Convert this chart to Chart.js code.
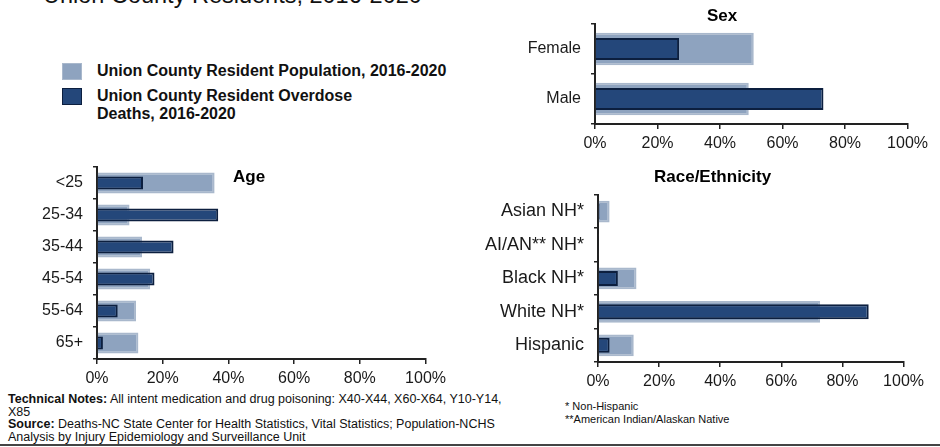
<!DOCTYPE html>
<html>
<head>
<meta charset="utf-8">
<script src="https://cdn.jsdelivr.net/npm/chart.js@4.4.1/dist/chart.umd.min.js"></script>
<style>
  html, body { margin: 0; padding: 0; background: #fff; }
  body { width: 940px; height: 447px; position: relative; overflow: hidden;
         font-family: "Liberation Sans", Arial, sans-serif; color: #111; }
  .abs { position: absolute; }
  canvas { position: absolute; }
  .main-title { left: 43px; top: -16px; font-size: 23.5px; line-height: 23.5px; white-space: nowrap; z-index: 2; }
  .panel-title { font-weight: bold; font-size: 17px; line-height: 17px; white-space: nowrap; z-index: 2; color: #000; }
  .legend { left: 62px; top: 62px; font-weight: bold; font-size: 16px; z-index: 2; }
  .legend .item { position: relative; padding-left: 35px; line-height: 18.6px; margin-bottom: 6px; }
  .legend .sw { position: absolute; left: 0; top: 1px; width: 18px; height: 15px; }
  .notes { left: 8px; top: 393px; font-size: 12.5px; line-height: 12.5px; white-space: nowrap; z-index: 2; }
  .notes2 { left: 565px; top: 400px; font-size: 11px; line-height: 13px; white-space: nowrap; z-index: 2; }
  .rule { left: 0; top: 444px; width: 940px; height: 2px; background: #444; }
</style>
</head>
<body>
<div class="abs main-title">Union County Residents, 2016-2020</div>

<div class="abs legend">
  <div class="item"><span class="sw" style="background:#8ea3bf;border:1px solid #a9b8cc;"></span>Union County Resident Population, 2016-2020</div>
  <div class="item"><span class="sw" style="background:#24477a;border:1px solid #0c1f3f;"></span>Union County Resident Overdose<br>Deaths, 2016-2020</div>
</div>

<div class="abs panel-title" style="left:707px; top:7px;">Sex</div>
<div class="abs panel-title" style="left:233px; top:168px;">Age</div>
<div class="abs panel-title" style="left:654px; top:168px;">Race/Ethnicity</div>

<canvas id="sexChart"></canvas>
<canvas id="ageChart"></canvas>
<canvas id="raceChart"></canvas>

<div class="abs notes">
  <b>Technical Notes:</b> All intent medication and drug poisoning: X40-X44, X60-X64, Y10-Y14,<br>
  X85<br>
  <b>Source:</b> Deaths-NC State Center for Health Statistics, Vital Statistics; Population-NCHS<br>
  Analysis by Injury Epidemiology and Surveillance Unit
</div>
<div class="abs notes2">
  * Non-Hispanic<br>
  **American Indian/Alaskan Native
</div>
<div class="abs rule"></div>

<script>
// Percent of Union County residents (population) and of overdose deaths, 2016-2020
const seriesNames = ["Union County Resident Population, 2016-2020", "Union County Resident Overdose Deaths, 2016-2020"];

const sexCategories = ["Female", "Male"];
const sexPopulation = [50.8, 49.2];
const sexDeaths = [26.9, 73.1];

const ageCategories = ["<25", "25-34", "35-44", "45-54", "55-64", "65+"];
const agePopulation = [35.8, 9.9, 13.7, 16.2, 11.9, 12.6];
const ageDeaths = [14.0, 36.9, 23.3, 17.5, 6.3, 1.8];

const raceCategories = ["Asian NH*", "AI/AN** NH*", "Black NH*", "White NH*", "Hispanic"];
const racePopulation = [3.8, 0.3, 12.6, 72.7, 11.7];
const raceDeaths = [0.5, 0.3, 6.5, 88.6, 3.8];

const xTicks = [0, 20, 40, 60, 80, 100];

const POP_FILL = "#8ea3bf", POP_EDGE = "#a9b8cc";
const DTH_FILL = "#24477a", DTH_EDGE = "#0c1f3f";
const AXIS = "#222";
const FAMILY = "'Liberation Sans', Arial, sans-serif";
const FONT = { family: FAMILY, size: 16 };

function makeChart(id, box, labels, pop, deaths, deathBar, labelSize) {
  const cv = document.getElementById(id);
  cv.style.left = box.left + "px";
  cv.style.top = box.top + "px";
  cv.width = box.width; cv.height = box.height;
  cv.style.width = box.width + "px"; cv.style.height = box.height + "px";
  return new Chart(cv, {
    type: "bar",
    data: {
      labels: labels,
      datasets: [
        { label: seriesNames[0], data: pop, backgroundColor: POP_FILL, borderColor: POP_EDGE,
          borderWidth: 2, barPercentage: 0.65, categoryPercentage: 1, grouped: false, order: 2 },
        { label: seriesNames[1], data: deaths, backgroundColor: DTH_FILL, borderColor: DTH_EDGE,
          borderWidth: 2, barPercentage: deathBar, categoryPercentage: 1, grouped: false, order: 1 }
      ]
    },
    options: {
      indexAxis: "y",
      responsive: false,
      animation: false,
      devicePixelRatio: 1,
      // top padding covers the half-label room the category axis asks for
      layout: { padding: { top: 20, right: 25, left: 0, bottom: 0 } },
      plugins: { legend: { display: false }, tooltip: { enabled: false }, title: { display: false } },
      scales: {
        x: {
          type: "linear", min: 0, max: 100,
          afterBuildTicks: (s) => { s.ticks = xTicks.map(v => ({ value: v })); },
          afterFit: (s) => { s.height = box.xh; },
          ticks: { font: FONT, color: "#1a1a1a", padding: 5, maxRotation: 0,
                   callback: (v) => v + "%" },
          grid: { display: true, drawOnChartArea: false, drawTicks: true, tickLength: 5, color: AXIS, lineWidth: 1.5 },
          border: { display: true, color: AXIS, width: 2 }
        },
        y: {
          type: "category",
          offset: true,
          afterFit: (s) => { s.width = box.yw; },
          ticks: { font: { family: FAMILY, size: labelSize }, color: "#1a1a1a", padding: 10 },
          grid: { display: true, offset: true, drawOnChartArea: false, drawTicks: true, tickLength: 4, color: AXIS, lineWidth: 1.5 },
          border: { display: true, color: AXIS, width: 2 }
        }
      }
    }
  });
}

// plot areas: Sex 595-908 x 24-124, Age 97-426 x 167-359, Race 598-904 x 194-362
makeChart("sexChart",  { left: 500, top: 4,   width: 433, height: 150, yw: 95,  xh: 30 }, sexCategories,  sexPopulation,  sexDeaths,  0.44, 16);
makeChart("ageChart",  { left: 10,  top: 147, width: 441, height: 242, yw: 87,  xh: 30 }, ageCategories,  agePopulation,  ageDeaths,  0.40, 16);
makeChart("raceChart", { left: 474, top: 174, width: 455, height: 218, yw: 124, xh: 30 }, raceCategories, racePopulation, raceDeaths, 0.45, 18);
</script>
</body>
</html>
